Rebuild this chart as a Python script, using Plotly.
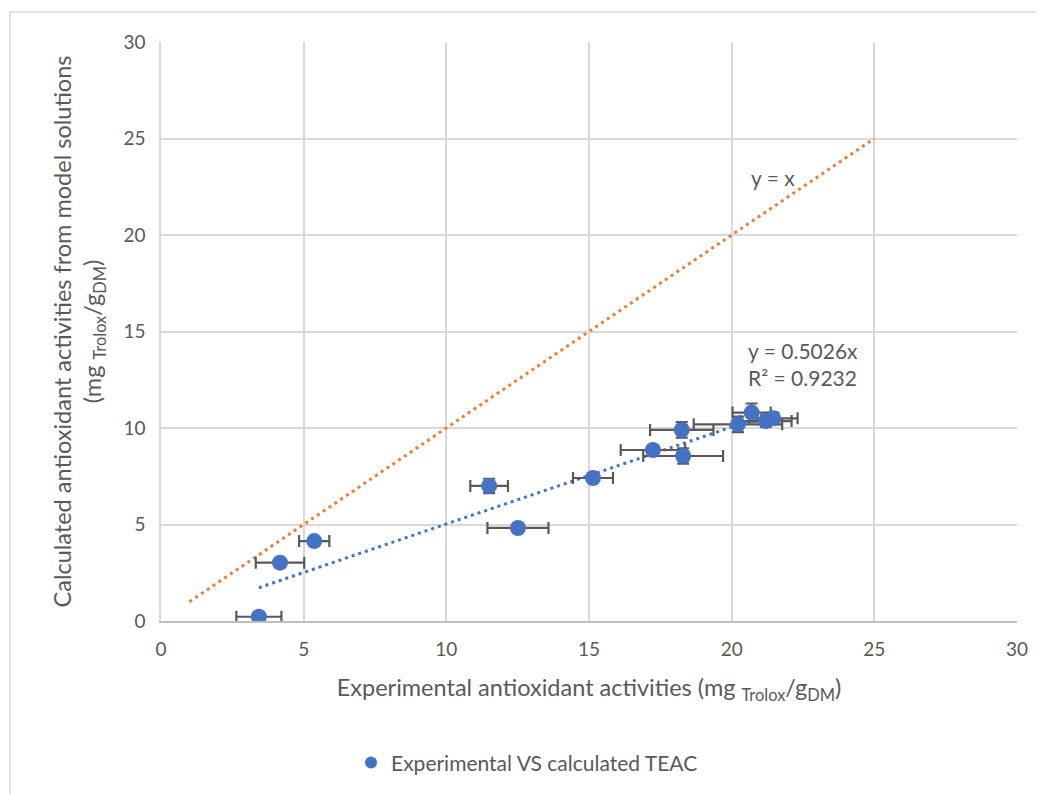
import plotly.graph_objects as go

# Data
exp_x = [3.43, 4.17, 5.37, 11.50, 12.51, 15.14, 17.24, 18.30, 18.25, 20.22, 20.70, 21.20, 21.46]
calc_y = [0.22, 3.02, 4.14, 7.00, 4.82, 7.41, 8.86, 8.55, 9.90, 10.19, 10.80, 10.36, 10.50]
x_err = [0.79, 0.85, 0.53, 0.66, 1.07, 0.70, 1.13, 1.40, 1.11, 1.55, 0.67, 0.90, 0.85]
y_err = [0.10, 0.10, 0.10, 0.37, 0.10, 0.15, 0.20, 0.40, 0.40, 0.40, 0.47, 0.30, 0.30]

slope = 0.5026
r2 = 0.9232
trend_x = [min(exp_x), max(exp_x)]
trend_y = [slope * v for v in trend_x]
ident_x = [1, 25]
ident_y = [1, 25]

tick_vals = [0, 5, 10, 15, 20, 25, 30]

FONT = "Lato"
GRAY = "#595959"

fig = go.Figure()

fig.add_trace(go.Scatter(
    x=ident_x, y=ident_y, mode="lines",
    line=dict(color="#ED7D31", width=3, dash="3px,4px"),
    showlegend=False, hoverinfo="skip"))

fig.add_trace(go.Scatter(
    x=trend_x, y=trend_y, mode="lines",
    line=dict(color="#4472C4", width=3, dash="3px,4px"),
    showlegend=False, hoverinfo="skip"))

fig.add_trace(go.Scatter(
    x=exp_x, y=calc_y, mode="markers",
    name="Experimental VS calculated TEAC",
    marker=dict(color="#4472C4", size=16),
    error_x=dict(type="data", array=x_err, color=GRAY, thickness=2.2, width=6),
    error_y=dict(type="data", array=y_err, color=GRAY, thickness=2.2, width=6),
))

fig.add_annotation(x=21.45, y=23.0, text="y = x", showarrow=False,
                   font=dict(family=FONT, size=21, color=GRAY))
fig.add_annotation(x=22.5, y=13.3, text=f"y = {slope}x<br>R² = {r2}", showarrow=False,
                   align="left", font=dict(family=FONT, size=21, color=GRAY))

# outer chart border
fig.add_shape(type="rect", xref="paper", yref="paper",
              x0=-0.1764, x1=1.06, y0=-0.31, y1=1.0518,
              line=dict(color="#d9d9d9", width=1.5), fillcolor="rgba(0,0,0,0)", layer="below")

fig.update_layout(
    width=1044, height=794,
    margin=dict(l=153, r=35, t=34, b=181),
    paper_bgcolor="white", plot_bgcolor="white",
    font=dict(family=FONT, color=GRAY, size=19),
    legend=dict(orientation="h", x=0.222, y=-0.245, xanchor="left", yanchor="middle",
                font=dict(family=FONT, size=21, color=GRAY), itemsizing="constant"),
    xaxis=dict(range=[0, 30], tickvals=tick_vals, showgrid=True, gridcolor="#d9d9d9", gridwidth=1.5,
               zeroline=False, showline=True, linecolor="#bfbfbf", linewidth=2,
               ticks="outside", ticklen=10, tickcolor="rgba(0,0,0,0)",
               tickfont=dict(size=19, color=GRAY),
               title=dict(text="Experimental antioxidant activities (mg <sub>Trolox</sub>/g<sub>DM</sub>)",
                          font=dict(size=23.5, color=GRAY), standoff=21)),
    yaxis=dict(range=[0, 30], tickvals=tick_vals, showgrid=True, gridcolor="#d9d9d9", gridwidth=1.5,
               zeroline=False, showline=True, linecolor="#d9d9d9", linewidth=1.5,
               ticks="outside", ticklen=10, tickcolor="rgba(0,0,0,0)",
               tickfont=dict(size=19, color=GRAY),
               title=dict(text="Calculated antioxidant activities from model solutions<br>(mg <sub>Trolox</sub>/g<sub>DM</sub>)",
                          font=dict(size=23.5, color=GRAY), standoff=15)),
)

fig.write_html("out.html")
